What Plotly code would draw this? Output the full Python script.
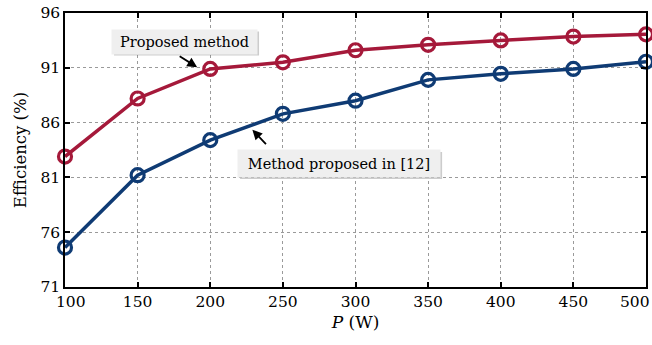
import plotly.graph_objects as go

# Output power levels (W)
power_w = [100, 150, 200, 250, 300, 350, 400, 450, 500]
# Measured efficiency (%)
eff_proposed = [82.9, 88.2, 90.9, 91.5, 92.6, 93.1, 93.5, 93.85, 94.05]
eff_ref12 = [74.6, 81.2, 84.4, 86.8, 88.0, 89.9, 90.45, 90.9, 91.55]

x_ticks = [100, 150, 200, 250, 300, 350, 400, 450, 500]
y_ticks = [71, 76, 81, 86, 91, 96]

RED = "#A5193A"
BLUE = "#0F3B74"
FONT = "DejaVu Serif"
TICK_FONT = dict(family=FONT, size=15.5, color="black")

# inner tick labels come from the axis; the two end labels are placed
# separately so they can be nudged inward and stay inside the figure
x_ticktext = [str(v) for v in x_ticks]
x_ticktext[0] = ""
x_ticktext[-1] = ""

fig = go.Figure()

for ys, col in [(eff_ref12, BLUE), (eff_proposed, RED)]:
    fig.add_trace(go.Scatter(
        x=power_w, y=ys, mode="lines+markers",
        line=dict(color=col, width=3.5),
        marker=dict(symbol="circle-open", size=13, color=col, line=dict(width=3.2, color=col)),
        cliponaxis=False, showlegend=False,
    ))

axis_common = dict(
    showline=True, linecolor="black", linewidth=1.5, mirror="ticks",
    ticks="inside", ticklen=5, tickwidth=1.5, tickcolor="black",
    showgrid=True, gridcolor="#9a9a9a", griddash="dot", gridwidth=1,
    zeroline=False, tickfont=TICK_FONT, automargin=False,
)

fig.update_xaxes(range=[100, 500], tickvals=x_ticks, ticktext=x_ticktext, **axis_common,
                 title=dict(text="<i>P</i> (W)", font=dict(family=FONT, size=17, color="black"), standoff=6))
fig.update_yaxes(range=[71, 96], tickvals=y_ticks, **axis_common,
                 title=dict(text="Efficiency (%)", font=dict(family=FONT, size=16.5, color="black"), standoff=10))

fig.add_annotation(x=x_ticks[0], y=0, xref="x", yref="paper", text=str(x_ticks[0]),
                   showarrow=False, xanchor="center", yanchor="top", xshift=6, yshift=-5,
                   font=TICK_FONT, borderpad=0)
fig.add_annotation(x=x_ticks[-1], y=0, xref="x", yref="paper", text=str(x_ticks[-1]),
                   showarrow=False, xanchor="right", yanchor="top", xshift=5, yshift=-5,
                   font=TICK_FONT, borderpad=0)

def label_box(text, x, y, w, h):
    # soft drop shadow behind the label box
    fig.add_shape(type="rect", xref="x", yref="y", xsizemode="pixel", ysizemode="pixel",
                  xanchor=x, yanchor=y, x0=-w / 2 + 2, x1=w / 2 + 2, y0=-h / 2 - 2, y1=h / 2 - 2,
                  fillcolor="rgba(110,110,110,0.35)", line=dict(width=0), layer="above")
    fig.add_annotation(x=x, y=y, text=text, showarrow=False, width=w, height=h,
                       font=dict(family=FONT, size=14.5, color="black"),
                       bgcolor="#EFEFEF", borderpad=0)

def pointer(x, y, ax, ay):
    fig.add_annotation(x=x, y=y, ax=ax, ay=ay, text="", showarrow=True,
                       arrowhead=2, arrowsize=1.1, arrowwidth=1.8, arrowcolor="black")

label_box("Proposed method", 182.3, 93.4, 145, 24)
pointer(191, 91.05, -19, -12)
label_box("Method proposed in [12]", 288.7, 82.27, 202, 27)
pointer(229, 85.35, 15, 16)

fig.update_layout(
    width=652, height=345,
    margin=dict(l=65, r=6, t=13, b=58),
    plot_bgcolor="white", paper_bgcolor="white",
)

fig.write_html("out.html")
